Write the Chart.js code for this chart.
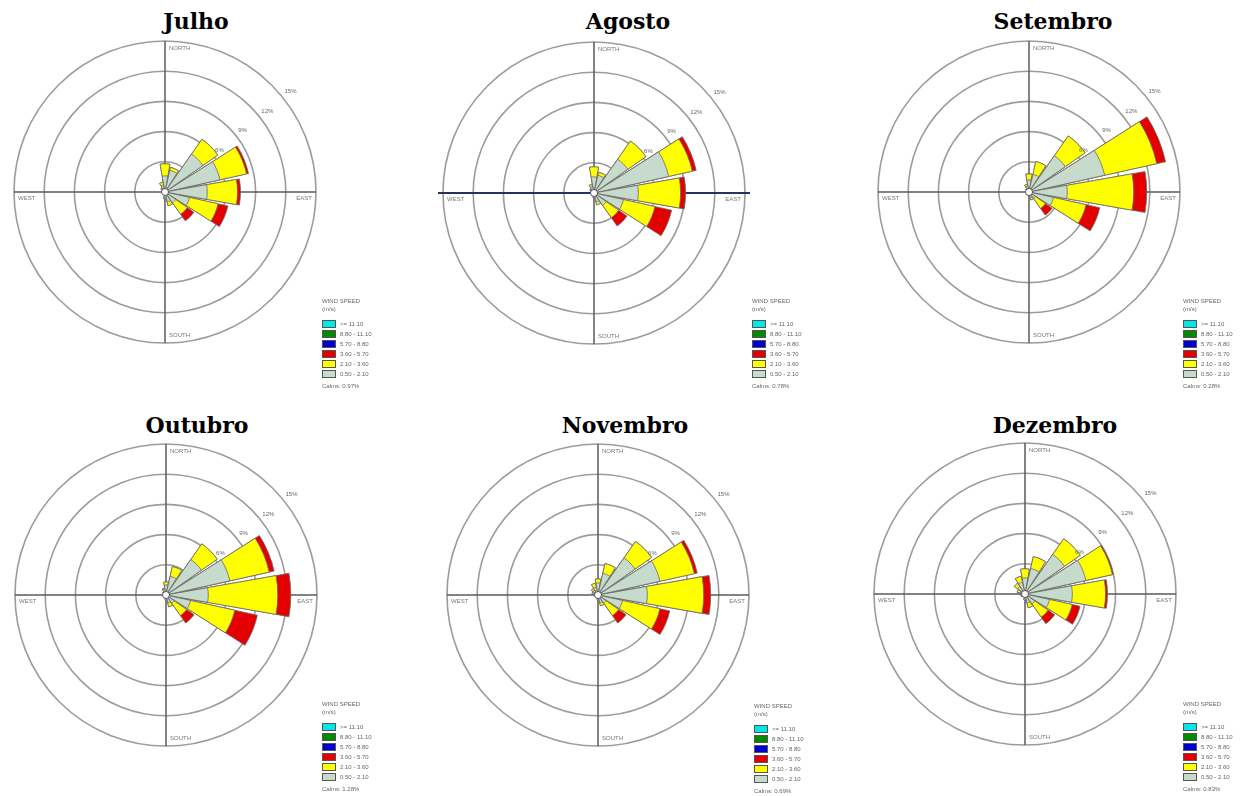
<!DOCTYPE html>
<html lang="pt">
<head>
<meta charset="UTF-8">
<title>Rosa dos ventos - julho a dezembro</title>
<script src="https://cdn.jsdelivr.net/npm/chart.js@4.4.0/dist/chart.umd.min.js"></script>
<style>
  body {
    margin: 0;
    background: #fff;
    width: 1242px;
    height: 796px;
    position: relative;
    overflow: hidden;
    font-family: Arial, 'Liberation Sans', sans-serif;
  }
  .title {
    position: absolute;
    transform: translateX(-50%);
    font: bold 22px 'DejaVu Serif', serif;
    line-height: 1;
    white-space: nowrap;
    color: #000;
  }
  canvas { position: absolute; }
  .legend {
    position: absolute;
    font-size: 6px;
    line-height: 8px;
    color: #666;
    white-space: nowrap;
  }
  .legend .row { height: 10px; display: flex; align-items: center; }
  .legend .sw {
    width: 14px;
    height: 8px;
    border: 1px solid #555;
    box-sizing: border-box;
    margin-right: 4px;
  }
</style>
</head>
<body>
<script>
// 16 directions, clockwise from north
const directions = ['N', 'NNE', 'NE', 'ENE', 'E', 'ESE', 'SE', 'SSE', 'S', 'SSW', 'SW', 'WSW', 'W', 'WNW', 'NW', 'NNW']

// ring values (% of time) and their labels
const ringValues = [3, 6, 9, 12, 15]
const ringLabels = ['3%', '6%', '9%', '12%', '15%']

// wind speed classes (m/s), top to bottom as in the legend
const speedLabels = ['>= 11.10', '8.80 - 11.10', '5.70 - 8.80', '3.60 - 5.70', '2.10 - 3.60', '0.50 - 2.10']
const speedColors = ['#00e8e8', '#008a00', '#0000d0', '#e40000', '#ffff00', '#c6dbcc']

const months = ['Julho', 'Agosto', 'Setembro', 'Outubro', 'Novembro', 'Dezembro']
const calms = ['0.97%', '0.78%', '0.28%', '1.28%', '0.69%', '0.83%']

// frequency (%) per direction for each class: 0.50-2.10, 2.10-3.60, 3.60-5.70
const julhoLight = [1.6, 2.2, 4.6, 5.6, 4.2, 2.5, 1.3, 1.0, 0.6, 0.3, 0.2, 0.2, 0.2, 0.3, 0.5, 0.7]
const julhoYellow = [1.2, 0.3, 1.8, 2.7, 3.0, 2.9, 1.4, 0.4, 0.1, 0, 0, 0, 0, 0, 0, 0.3]
const julhoRed = [0, 0, 0, 0.2, 0.3, 1.0, 0.8, 0, 0, 0, 0, 0, 0, 0, 0, 0]

const agostoLight = [1.6, 1.8, 4.1, 7.6, 4.4, 3.0, 1.5, 0.9, 0.5, 0.3, 0.2, 0.2, 0.2, 0.3, 0.5, 0.7]
const agostoYellow = [1.0, 0.3, 2.2, 2.4, 4.2, 3.2, 1.5, 0.3, 0, 0, 0, 0, 0, 0, 0, 0.2]
const agostoRed = [0, 0, 0, 0.4, 0.5, 1.7, 1.0, 0, 0, 0, 0, 0, 0, 0, 0, 0]

const setembroLight = [1.2, 1.8, 4.4, 7.7, 3.8, 2.5, 0.8, 0.6, 0.4, 0.2, 0.2, 0.2, 0.2, 0.2, 0.4, 0.6]
const setembroYellow = [0.6, 1.3, 2.4, 5.3, 6.6, 3.3, 1.2, 0.2, 0, 0, 0, 0, 0, 0, 0, 0.2]
const setembroRed = [0, 0, 0, 0.9, 1.3, 1.4, 0.8, 0, 0, 0, 0, 0, 0, 0, 0, 0]

const outubroLight = [1.0, 1.9, 4.3, 6.5, 4.2, 2.5, 1.0, 0.8, 0.5, 0.3, 0.2, 0.2, 0.2, 0.3, 0.4, 0.6]
const outubroYellow = [0.3, 1.0, 1.9, 4.0, 6.9, 4.5, 1.5, 0.4, 0, 0, 0, 0, 0, 0, 0, 0.1]
const outubroRed = [0, 0, 0, 0.5, 1.3, 2.3, 0.9, 0, 0, 0, 0, 0, 0, 0, 0, 0]

const novembroLight = [1.2, 2.2, 4.5, 6.3, 4.9, 2.5, 1.0, 0.8, 0.5, 0.3, 0.3, 0.3, 0.4, 0.6, 0.6, 0.8]
const novembroYellow = [0.4, 1.0, 2.0, 3.5, 5.6, 3.8, 1.5, 0.3, 0, 0, 0, 0, 0, 0, 0.2, 0.4]
const novembroRed = [0, 0, 0, 0.3, 0.7, 1.0, 0.9, 0, 0, 0, 0, 0, 0, 0, 0, 0]

const dezembroLight = [1.6, 2.6, 4.8, 6.2, 4.7, 2.5, 1.2, 0.9, 0.6, 0.3, 0.3, 0.4, 0.5, 0.5, 0.9, 1.2]
const dezembroYellow = [0.9, 1.2, 1.9, 2.7, 3.3, 2.3, 1.6, 0.5, 0, 0, 0, 0, 0, 0.3, 0.4, 0.6]
const dezembroRed = [0, 0, 0, 0.1, 0.2, 0.8, 0.8, 0, 0, 0, 0, 0, 0, 0, 0, 0]

const monthData = [
  [julhoLight, julhoYellow, julhoRed],
  [agostoLight, agostoYellow, agostoRed],
  [setembroLight, setembroYellow, setembroRed],
  [outubroLight, outubroYellow, outubroRed],
  [novembroLight, novembroYellow, novembroRed],
  [dezembroLight, dezembroYellow, dezembroRed],
]

// page layout: rose centre, title centre/top, legend top-left
const layout = [
  { cx: 165, cy: 192, tx: 196, ty: 10, lx: 322, ly: 297 },
  { cx: 594, cy: 193, tx: 628, ty: 10, lx: 752, ly: 297 },
  { cx: 1029, cy: 192, tx: 1053, ty: 10, lx: 1183, ly: 297 },
  { cx: 166, cy: 595, tx: 197, ty: 414, lx: 322, ly: 700 },
  { cx: 598, cy: 595, tx: 625, ty: 414, lx: 754, ly: 702 },
  { cx: 1025, cy: 594, tx: 1055, ty: 414, lx: 1183, ly: 700 },
]

const SIZE = 320
const PETAL = 20   // degrees per petal
const GAP = 2.5    // degrees between petals

// petal + gap pairs so each petal is centred on its direction
const petalLabels = []
directions.forEach((d) => petalLabels.push(d, ''))
const spread = (vals) => {
  const out = []
  vals.forEach((v) => out.push(v, 0))
  return out
}
const cumulative = (...arrs) => arrs[0].map((_, i) => arrs.reduce((s, a) => s + a[i], 0))

const roseDecor = {
  id: 'roseDecor',
  beforeDatasetsDraw(chart, args, opts) {
    const r = chart.scales.r
    const ctx = chart.ctx
    const cx = r.xCenter
    const cy = r.yCenter
    const R = r.drawingArea
    ctx.save()
    ctx.strokeStyle = '#5a5a5a'
    ctx.lineWidth = 1.5
    ctx.beginPath()
    ctx.moveTo(cx, cy - R)
    ctx.lineTo(cx, cy + R)
    ctx.stroke()
    ctx.strokeStyle = opts.hColor
    ctx.lineWidth = opts.hWidth
    ctx.beginPath()
    ctx.moveTo(cx - R - opts.hExtend, cy)
    ctx.lineTo(cx + R + opts.hExtend, cy)
    ctx.stroke()
    ctx.restore()
  },
  afterDatasetsDraw(chart) {
    const r = chart.scales.r
    const ctx = chart.ctx
    const cx = r.xCenter
    const cy = r.yCenter
    const R = r.drawingArea
    ctx.save()
    // calm circle
    ctx.beginPath()
    ctx.arc(cx, cy, 3.5, 0, Math.PI * 2)
    ctx.fillStyle = '#fff'
    ctx.fill()
    ctx.strokeStyle = '#555'
    ctx.lineWidth = 1
    ctx.stroke()
    // ring labels along the NE diagonal
    ctx.font = '6px Arial'
    ctx.fillStyle = '#666'
    ctx.textAlign = 'left'
    ctx.textBaseline = 'middle'
    const a = (50 * Math.PI) / 180
    ringValues.forEach((v, i) => {
      if (i === 0) return
      const d = r.getDistanceFromCenterForValue(v) + 5
      ctx.fillText(ringLabels[i], cx + d * Math.sin(a), cy - d * Math.cos(a))
    })
    // compass labels
    ctx.fillStyle = '#777'
    ctx.fillText('NORTH', cx + 4, cy - R + 7)
    ctx.fillText('SOUTH', cx + 4, cy + R - 8)
    ctx.fillText('WEST', cx - R + 4, cy + 6)
    ctx.textAlign = 'right'
    ctx.fillText('EAST', cx + R - 4, cy + 6)
    ctx.restore()
  },
}

months.forEach((month, m) => {
  const pos = layout[m]
  const [light, yellow, red] = monthData[m]

  const title = document.createElement('div')
  title.className = 'title'
  title.textContent = month
  title.style.left = pos.tx + 'px'
  title.style.top = pos.ty + 'px'
  document.body.appendChild(title)

  const canvas = document.createElement('canvas')
  canvas.width = SIZE
  canvas.height = SIZE
  canvas.style.left = pos.cx - SIZE / 2 + 'px'
  canvas.style.top = pos.cy - SIZE / 2 + 'px'
  document.body.appendChild(canvas)

  const lg = document.createElement('div')
  lg.className = 'legend'
  lg.style.left = pos.lx + 'px'
  lg.style.top = pos.ly + 'px'
  let html = '<div>WIND SPEED</div><div>(m/s)</div><div style="height:6px"></div>'
  speedLabels.forEach((lab, i) => {
    html += '<div class="row"><span class="sw" style="background:' + speedColors[i] + '"></span>' + lab + '</div>'
  })
  html += '<div style="margin-top:3px">Calms: ' + calms[m] + '</div>'
  lg.innerHTML = html
  document.body.appendChild(lg)

  const petal = (values, color) => ({
    data: spread(values),
    backgroundColor: color,
    borderColor: '#6a6a6a',
    borderWidth: (c) => (c.dataIndex % 2 === 0 ? 0.8 : 0),
    angle: (c) => (c.dataIndex % 2 === 0 ? PETAL : GAP),
  })

  new Chart(canvas, {
    type: 'polarArea',
    data: {
      labels: petalLabels,
      datasets: [
        petal(light, speedColors[5]),
        petal(cumulative(light, yellow), speedColors[4]),
        petal(cumulative(light, yellow, red), speedColors[3]),
      ],
    },
    options: {
      responsive: false,
      animation: false,
      layout: { padding: 9 },
      plugins: {
        legend: { display: false },
        tooltip: { enabled: false },
        roseDecor: {
          hColor: m === 1 ? '#26335e' : '#5a5a5a',
          hWidth: m === 1 ? 2 : 1.5,
          hExtend: m === 1 ? 5 : 0,
        },
      },
      scales: {
        r: {
          min: 0,
          max: 15,
          startAngle: -PETAL / 2,
          ticks: { display: false, stepSize: 3 },
          grid: { color: '#9c9c9c', lineWidth: 1.6 },
          angleLines: { display: false },
          pointLabels: { display: false },
        },
      },
    },
    plugins: [roseDecor],
  })
})
</script>
</body>
</html>
